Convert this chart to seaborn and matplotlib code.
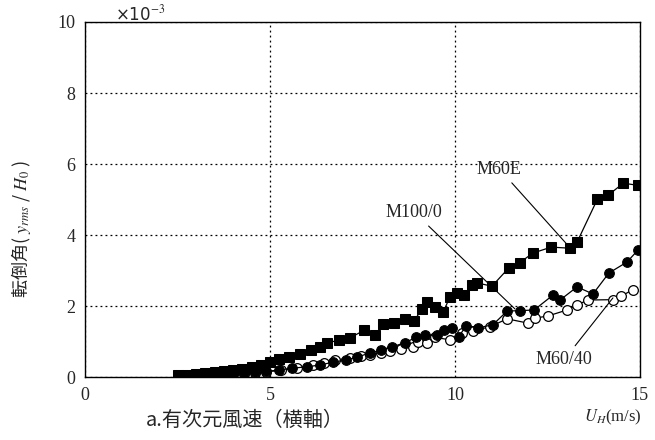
import pandas as pd
import seaborn as sns
import matplotlib.pyplot as plt

# wind speed U_H (m/s) and overturning angle y_rms/H_0 (x1e-3)
m60e_x = [2.5, 2.75, 3.0, 3.25, 3.5, 3.75, 4.0, 4.25, 4.5, 4.75, 5.0, 5.25, 5.5, 5.8, 6.1,
          6.35, 6.55, 6.85, 7.15, 7.55, 7.85, 8.05, 8.35, 8.65, 8.9, 9.1, 9.25, 9.45, 9.68,
          9.86, 10.05, 10.25, 10.46, 10.6, 11.0, 11.45, 11.75, 12.1, 12.6, 13.1, 13.3,
          13.85, 14.15, 14.55, 14.95]
m60e_y = [0.05, 0.07, 0.09, 0.11, 0.14, 0.17, 0.20, 0.24, 0.28, 0.33, 0.42, 0.52, 0.56, 0.66, 0.75,
          0.85, 0.96, 1.04, 1.10, 1.32, 1.18, 1.50, 1.52, 1.64, 1.58, 1.92, 2.11, 1.97, 1.83,
          2.25, 2.36, 2.30, 2.59, 2.65, 2.56, 3.07, 3.22, 3.49, 3.66, 3.63, 3.80,
          5.01, 5.13, 5.46, 5.40]

m100_x = [2.5, 2.8, 3.1, 3.4, 3.7, 4.0, 4.3, 4.6, 4.9, 5.25, 5.6, 6.0, 6.35, 6.7, 7.05, 7.35,
          7.7, 8.0, 8.3, 8.65, 8.95, 9.2, 9.5, 9.7, 9.92, 10.1, 10.3, 10.62, 11.03, 11.41,
          11.75, 12.14, 12.65, 12.84, 13.3, 13.73, 14.16, 14.65, 14.95]
m100_y = [0.02, 0.03, 0.04, 0.05, 0.07, 0.09, 0.11, 0.13, 0.16, 0.20, 0.25, 0.29, 0.34, 0.42, 0.48, 0.56,
          0.68, 0.76, 0.85, 0.97, 1.12, 1.18, 1.18, 1.32, 1.38, 1.13, 1.45, 1.38, 1.48, 1.86,
          1.87, 1.89, 2.31, 2.17, 2.54, 2.34, 2.93, 3.24, 3.58]

m6040_x = [2.5, 2.8, 3.1, 3.4, 3.7, 4.0, 4.3, 4.6, 4.9, 5.3, 5.73, 6.16, 6.45, 6.76, 7.16, 7.45,
           7.7, 8.0, 8.24, 8.55, 8.86, 9.0, 9.24, 9.45, 9.86, 10.2, 10.5, 10.95, 11.41, 11.97,
           12.16, 12.51, 13.03, 13.3, 13.59, 14.27, 14.49, 14.81]
m6040_y = [0.02, 0.03, 0.04, 0.05, 0.06, 0.08, 0.10, 0.12, 0.15, 0.19, 0.25, 0.34, 0.40, 0.48, 0.54, 0.58,
           0.63, 0.68, 0.73, 0.78, 0.86, 1.00, 0.97, 1.12, 1.05, 1.24, 1.30, 1.42, 1.64, 1.52,
           1.66, 1.72, 1.89, 2.03, 2.17, 2.18, 2.28, 2.46]

x_ticks = [0, 5, 10, 15]
y_ticks = [0, 2, 4, 6, 8, 10]

sns.set_style("white")
plt.rcParams['font.family'] = ['Liberation Serif', 'Noto Sans CJK JP', 'DejaVu Sans']
plt.rcParams['mathtext.fontset'] = 'stix'

fig = plt.figure(figsize=(6.55, 4.4), dpi=100)
ax = fig.add_axes([0.130, 0.143, 0.847, 0.807])

df_e = pd.DataFrame({'x': m60e_x, 'y': m60e_y})
df_100 = pd.DataFrame({'x': m100_x, 'y': m100_y})
df_40 = pd.DataFrame({'x': m6040_x, 'y': m6040_y})

sns.lineplot(data=df_40, x='x', y='y', ax=ax, sort=False, estimator=None, color='black', lw=0.9,
             marker='o', markersize=7, markerfacecolor='white', markeredgecolor='black', markeredgewidth=0.9)
sns.lineplot(data=df_100, x='x', y='y', ax=ax, sort=False, estimator=None, color='black', lw=0.9,
             marker='o', markersize=7, markerfacecolor='black', markeredgecolor='black')
sns.lineplot(data=df_e, x='x', y='y', ax=ax, sort=False, estimator=None, color='black', lw=0.9,
             marker='s', markersize=7.5, markerfacecolor='black', markeredgecolor='black')

ax.set_xlim(0, 15)
ax.set_ylim(0, 10)
ax.set_xticks(x_ticks)
ax.set_yticks(y_ticks)
ax.tick_params(length=0, labelsize=13, pad=7)
ax.set_xlabel('')
ax.set_ylabel('')
ax.grid(True, color='black', linestyle=(0, (1.5, 2.5)), linewidth=0.9)
for s in ax.spines.values():
    s.set_color('black')
    s.set_linewidth(1.0)

# series labels with leader lines
ax.annotate('M60E', xy=(13.0, 3.77), xytext=(11.2, 5.62), fontsize=13, ha='center', va='bottom',
            arrowprops=dict(arrowstyle='-', color='black', lw=0.8, shrinkA=2, shrinkB=0))
ax.annotate('M100/0', xy=(11.62, 1.92), xytext=(8.9, 4.4), fontsize=13, ha='center', va='bottom',
            arrowprops=dict(arrowstyle='-', color='black', lw=0.8, shrinkA=2, shrinkB=0))
ax.annotate('M60/40', xy=(14.27, 2.23), xytext=(12.95, 0.25), fontsize=13, ha='center', va='bottom',
            arrowprops=dict(arrowstyle='-', color='black', lw=0.8, shrinkA=2, shrinkB=0))

fig.text(0.175, 0.968, '×10$^{-3}$', fontsize=12, ha='left', va='center',
         family=['DejaVu Sans'])
fig.text(0.032, 0.48, '転倒角( $y_{rms}$ / $H_0$ )', rotation=90, fontsize=13,
         ha='center', va='center', family=['Noto Sans CJK JP', 'DejaVu Sans'])
fig.text(0.374, 0.045, 'a.有次元風速（横軸）', fontsize=14.5, ha='center', va='center',
         family=['Noto Sans CJK JP', 'DejaVu Sans'])
fig.text(0.935, 0.052, '$U_H$(m/s)', fontsize=12, ha='center', va='center')

fig.savefig('out.png', dpi=100)
